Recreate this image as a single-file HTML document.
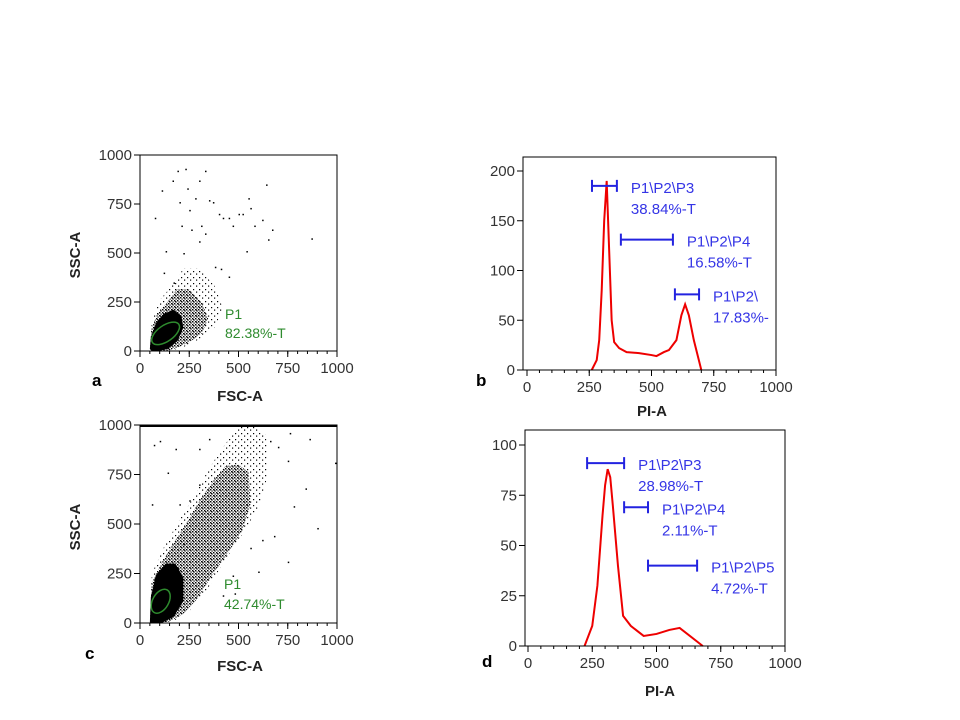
<!DOCTYPE html>
<html><head><meta charset="utf-8"><style>
body{margin:0;background:#fff;}
svg{display:block;font-family:"Liberation Sans",Arial,sans-serif;}
</style></head><body>
<svg id="fig" width="960" height="720" viewBox="0 0 960 720">
<defs>
<pattern id="dots" width="3" height="3" patternUnits="userSpaceOnUse"><rect x="0" y="0" width="1.4" height="1.4" fill="#000"/><rect x="1.5" y="1.5" width="1.2" height="1.2" fill="#000"/></pattern>
<pattern id="sparse" width="6" height="6" patternUnits="userSpaceOnUse"><rect x="1" y="1" width="1.2" height="1.2" fill="#000"/><rect x="4" y="3.5" width="1.2" height="1.2" fill="#000"/></pattern>
</defs>
</svg>
<script>
// ---- data ----
const histBx=[260,280,290,300,310,320,330,340,350,370,400,450,500,520,550,570,600,620,635,650,670,690,700];
const histBy=[0,10,30,80,150,190,120,50,28,22,18,17,15,14,18,20,30,55,66,55,30,10,0];
const histDx=[220,250,270,290,300,310,320,330,350,370,400,450,500,550,590,680];
const histDy=[0,10,30,65,80,88,84,70,40,15,10,5,6,8,9,0];
const gatesB=[["P1\\P2\\P3","38.84%-T",261,361,185],["P1\\P2\\P4","16.58%-T",377,586,131],["P1\\P2\\","17.83%-",594,691,76]];
const gatesD=[["P1\\P2\\P3","28.98%-T",230,374,91],["P1\\P2\\P4","2.11%-T",374,467,69],["P1\\P2\\P5","4.72%-T",467,658,40]];
const cloudAcoreX=[50,55,80,120,170,210,220,190,140,90,60];
const cloudAcoreY=[10,70,140,190,210,180,120,50,10,0,0];
const cloudAmidX=[50,60,100,160,220,300,380,420,380,300,220,150];
const cloudAmidY=[10,150,260,330,420,420,330,220,120,60,20,0];
const sparseAx=[75,110,130,165,190,210,230,240,280,300,310,330,350,370,400,420,450,470,500,520,540,550,560,580,620,640,650,670,870,220,260,300,450,410,380,250,330,170,120,200];
const sparseAy=[680,820,510,870,920,640,930,830,780,870,640,920,770,760,700,680,680,640,700,700,510,780,730,640,670,850,570,620,575,500,620,560,380,420,430,720,600,350,400,760];
const cloudCcoreX=[50,55,80,130,180,220,220,170,110,60];
const cloudCcoreY=[0,130,240,300,300,230,110,30,0,0];
const cloudCmidX=[50,60,120,200,280,350,430,500,580,640,650,600,520,420,330,250,170,100];
const cloudCmidY=[0,250,380,520,650,780,900,990,1000,950,750,580,450,300,150,60,10,0];
const sparseCx=[60,70,100,140,180,200,250,300,350,680,700,750,760,780,840,860,900,920,990,660,620,750,420,470,560,600,540,480,300,220];
const sparseCy=[600,900,920,760,880,600,620,700,930,440,890,310,960,590,680,930,480,1000,810,920,420,820,140,240,380,260,600,150,880,400];

const S=document.getElementById('fig');const NS='http://www.w3.org/2000/svg';
function el(t,a,txt){const e=document.createElementNS(NS,t);for(const k in a)e.setAttribute(k,a[k]);if(txt!==undefined)e.textContent=txt;S.appendChild(e);return e;}
function lin(d0,d1,r0,r1){return v=>r0+(v-d0)*(r1-r0)/(d1-d0);}

function axes(x0,x1,y0,y1,xs,ys,xt,yt,minorX,nm){
  const b=el('rect',{x:x0,y:y1,width:x1-x0,height:y0-y1,fill:'none',stroke:'#000','stroke-width':1});
  
  
  xt.forEach(v=>{const X=xs(v);el('line',{x1:X,y1:y0,x2:X,y2:y0+6,stroke:'#000'});
    const t=el('text',{x:X,y:y0+22,'font-size':15,'text-anchor':'middle',fill:'#333'},v);
    
    });
  for(let v=0;v<=1000;v+=minorX){el('line',{x1:xs(v),y1:y0,x2:xs(v),y2:y0+3,stroke:'#000'});}
  yt.forEach(v=>{const Y=ys(v);el('line',{x1:x0-6,y1:Y,x2:x0,y2:Y,stroke:'#000'});
    const t=el('text',{x:x0-8,y:Y+5,'font-size':15,'text-anchor':'end',fill:'#333'},v);
    
    });
}
function poly(xa,ya,xs,ys,fill,nm){
  const p=el('polygon',{points:xa.map((x,i)=>xs(x)+','+ys(ya[i])).join(' '),fill:fill});
  
  
}
function dots(xa,ya,xs,ys,nm){xa.forEach((x,i)=>{const r=el('rect',{x:xs(x),y:ys(ya[i]),width:1.5,height:1.5,fill:'#000'});
  
  });}

// ---- scatter a ----
{const xs=lin(0,1000,140,337),ys=lin(0,1000,351,155);
poly(cloudAmidX,cloudAmidY,xs,ys,'url(#sparse)','cloud-sparse-a');
poly(cloudAmidX.map(v=>v*0.8+10),cloudAmidY.map(v=>v*0.75),xs,ys,'url(#dots)','cloud-mid-a');
poly(cloudAcoreX,cloudAcoreY,xs,ys,'#000','cloud-core-a');
dots(sparseAx,sparseAy,xs,ys,'event-dot-a');
axes(140,337,351,155,xs,ys,[0,250,500,750,1000],[0,250,500,750,1000],50,'scatter-a');
const g=el('ellipse',{cx:xs(130),cy:ys(90),rx:16,ry:8,fill:'none',stroke:'#2e8b2e','stroke-width':1.5,transform:`rotate(-35 ${xs(130)} ${ys(90)})`});

el('text',{x:225,y:319,'font-size':14,fill:'#2e8b2e'},'P1');
el('text',{x:225,y:338,'font-size':14,fill:'#2e8b2e'},'82.38%-T');
}
// ---- scatter c ----
{const xs=lin(0,1000,140,337),ys=lin(0,1000,623,425);
poly(cloudCmidX,cloudCmidY,xs,ys,'url(#sparse)','cloud-sparse-c');
poly(cloudCmidX.map(v=>v*0.85+8),cloudCmidY.map(v=>v*0.8),xs,ys,'url(#dots)','cloud-mid-c');
poly(cloudCcoreX,cloudCcoreY,xs,ys,'#000','cloud-core-c');
dots(sparseCx,sparseCy,xs,ys,'event-dot-c');
el('rect',{x:140,y:425,width:197,height:2,fill:'#000'});
axes(140,337,623,425,xs,ys,[0,250,500,750,1000],[0,250,500,750,1000],50,'scatter-c');
const g=el('ellipse',{cx:xs(105),cy:ys(110),rx:13,ry:8,fill:'none',stroke:'#2e8b2e','stroke-width':1.5,transform:`rotate(-60 ${xs(105)} ${ys(110)})`});

el('text',{x:224,y:589,'font-size':14,fill:'#2e8b2e'},'P1');
el('text',{x:224,y:609,'font-size':14,fill:'#2e8b2e'},'42.74%-T');
}
function hist(hx,hy,xs,ys,gates,nm){
  let d='';hx.forEach((x,i)=>{d+=(i?'L':'M')+xs(x)+' '+ys(hy[i]);});
  const p=el('path',{d:d,fill:'none',stroke:'#e00','stroke-width':2});
  
  
  gates.forEach(g=>{const y=ys(g[4]),a=xs(g[2]),b=xs(g[3]);
    const l=el('path',{d:`M${a} ${y-6}V${y+6}M${b} ${y-6}V${y+6}M${a} ${y}H${b}`,stroke:'#2323e0','stroke-width':2,fill:'none'});
    
    
    const tx=b+14;
    const t1=el('text',{x:tx,y:y+7,'font-size':15,fill:'#3535e6'},g[0]);
    
    
    const t2=el('text',{x:tx,y:y+28,'font-size':15,fill:'#3535e6'},g[1]);
    
    
  });
}
// ---- histogram b ----
{const xs=lin(0,1000,527,776),ys=lin(0,200,370,171);
hist(histBx,histBy,xs,ys,gatesB,'hist-b');
el('rect',{x:777,y:150,width:40,height:200,fill:'#fff'});
axes(523,776,370,157,xs,ys,[0,250,500,750,1000],[0,50,100,150,200],50,'hist-b');
}
// ---- histogram d ----
{const xs=lin(0,1000,528,785),ys=lin(0,100,646,445);
hist(histDx,histDy,xs,ys,gatesD,'hist-d');
axes(525,785,646,430,xs,ys,[0,250,500,750,1000],[0,25,50,75,100],50,'hist-d');
}
// labels
[["a",92,386],["b",476,386],["c",85,659],["d",482,667]].forEach(l=>{const t=el('text',{x:l[1],y:l[2],'font-size':17,'font-weight':'bold',fill:'#000'},l[0]);
});
[["FSC-A",240,401],["FSC-A",240,671],["PI-A",652,416],["PI-A",660,696]].forEach(l=>{const t=el('text',{x:l[1],y:l[2],'font-size':15,'font-weight':'bold','text-anchor':'middle',fill:'#222'},l[0]);
});
[[80,255],[80,527]].forEach(p=>{const t=el('text',{x:p[0],y:p[1],'font-size':15,'font-weight':'bold','text-anchor':'middle',fill:'#222',transform:`rotate(-90 ${p[0]} ${p[1]})`},'SSC-A');
});
</script>
</body></html>
